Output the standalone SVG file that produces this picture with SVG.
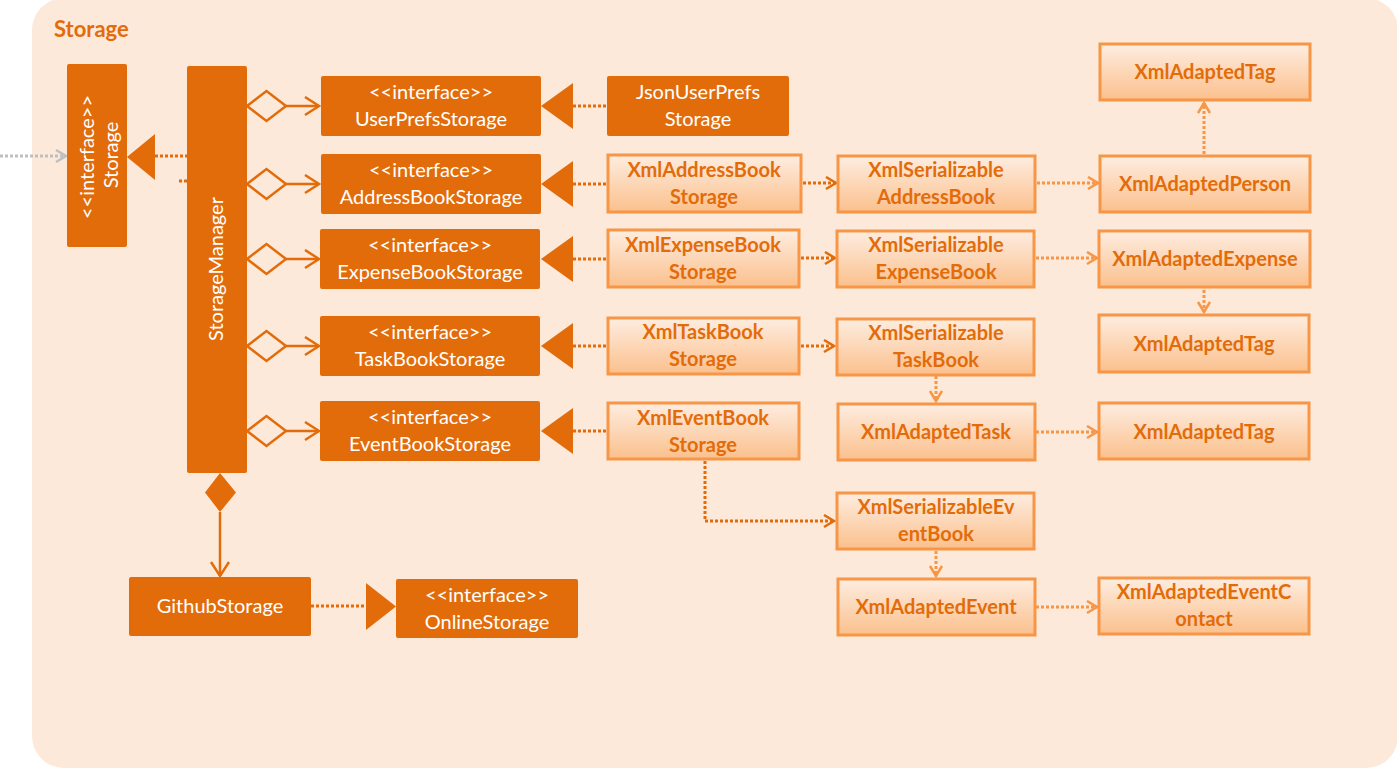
<svg xmlns="http://www.w3.org/2000/svg" width="1397" height="770" viewBox="0 0 1397 770">
<defs>
<linearGradient id="lg" x1="0" y1="0" x2="0" y2="1">
<stop offset="0" stop-color="#FEEDE0"/>
<stop offset="1" stop-color="#FBC08D"/>
</linearGradient>
<marker id="arrD" markerUnits="userSpaceOnUse" markerWidth="14" markerHeight="16" refX="11" refY="7" orient="auto">
<path d="M1,1 L11,7 L1,13" fill="none" stroke="#E36C0A" stroke-width="2.5"/>
</marker>
<marker id="arrL" markerUnits="userSpaceOnUse" markerWidth="14" markerHeight="16" refX="11" refY="7" orient="auto">
<path d="M1,1 L11,7 L1,13" fill="none" stroke="#F79646" stroke-width="2.5"/>
</marker>
<marker id="arrG" markerUnits="userSpaceOnUse" markerWidth="14" markerHeight="16" refX="11" refY="7" orient="auto">
<path d="M1,1 L11,7 L1,13" fill="none" stroke="#BFBFBF" stroke-width="2.5"/>
</marker>
<marker id="arrA" markerUnits="userSpaceOnUse" markerWidth="18" markerHeight="22" refX="15" refY="10" orient="auto">
<path d="M1,1 L15,10 L1,19" fill="none" stroke="#E36C0A" stroke-width="2.5"/>
</marker>
</defs>
<style>
.dark{fill:#E36C0A;}
.light{fill:url(#lg);stroke:#F79646;stroke-width:3;}
.wt{fill:#FFFFFF;font-family:Lato,"Open Sans","Liberation Sans",sans-serif;font-size:20px;text-anchor:middle;}
.lt{fill:#E36C0A;font-family:Lato,"Open Sans","Liberation Sans",sans-serif;font-size:20px;font-weight:bold;text-anchor:middle;}
.dd{stroke:#E36C0A;stroke-width:3;stroke-dasharray:3 2;fill:none;}
.dl{stroke:#F79646;stroke-width:3;stroke-dasharray:3 2;fill:none;}
.sol{stroke:#E36C0A;stroke-width:2.5;fill:none;}
.tri{fill:#E36C0A;}
.dia{fill:#FDE9D9;stroke:#E36C0A;stroke-width:2.5;}
</style>
<rect x="0" y="0" width="1397" height="770" fill="#FFFFFF"/>
<rect x="32" y="-2" width="1366" height="770" rx="32" fill="#FDE9D9"/>
<text x="54" y="37" fill="#E36C0A" font-family="Lato,'Open Sans','Liberation Sans',sans-serif" font-size="22" font-weight="bold">Storage</text>

<g id="connectors">
<line x1="0" y1="156" x2="66" y2="156" stroke="#BFBFBF" stroke-width="3" stroke-dasharray="3 2" marker-end="url(#arrG)"/>
<polygon class="tri" points="127,157 155,134 155,180"/>
<line class="dd" x1="155" y1="156" x2="187" y2="156"/>
<line class="dd" x1="179" y1="181" x2="187" y2="181"/>

<polygon class="dia" points="247,106 266.5,91 286,106 266.5,121"/>
<line class="sol" x1="286" y1="106" x2="319" y2="106" marker-end="url(#arrA)"/>
<polygon class="dia" points="247,184 266.5,169 286,184 266.5,199"/>
<line class="sol" x1="286" y1="184" x2="319" y2="184" marker-end="url(#arrA)"/>
<polygon class="dia" points="247,259 266.5,244 286,259 266.5,274"/>
<line class="sol" x1="286" y1="259" x2="319" y2="259" marker-end="url(#arrA)"/>
<polygon class="dia" points="247,346 266.5,331 286,346 266.5,361"/>
<line class="sol" x1="286" y1="346" x2="319" y2="346" marker-end="url(#arrA)"/>
<polygon class="dia" points="247,431 266.5,416 286,431 266.5,446"/>
<line class="sol" x1="286" y1="431" x2="319" y2="431" marker-end="url(#arrA)"/>

<polygon class="tri" points="541,106 573,83 573,129"/>
<line class="dd" x1="573" y1="106" x2="607" y2="106"/>
<polygon class="tri" points="541,184 573,161 573,207"/>
<line class="dd" x1="573" y1="184" x2="607" y2="184"/>
<polygon class="tri" points="541,259 573,236 573,282"/>
<line class="dd" x1="573" y1="259" x2="607" y2="259"/>
<polygon class="tri" points="541,346 573,323 573,369"/>
<line class="dd" x1="573" y1="346" x2="607" y2="346"/>
<polygon class="tri" points="541,431 573,408 573,454"/>
<line class="dd" x1="573" y1="431" x2="607" y2="431"/>

<line class="dd" x1="803" y1="183" x2="836" y2="183" marker-end="url(#arrD)"/>
<line class="dd" x1="801" y1="258" x2="835" y2="258" marker-end="url(#arrD)"/>
<line class="dd" x1="801" y1="346" x2="834" y2="346" marker-end="url(#arrD)"/>
<path class="dd" d="M705,461 L705,521 L834,521" marker-end="url(#arrD)"/>

<line class="dl" x1="1037" y1="183" x2="1098" y2="183" marker-end="url(#arrL)"/>
<line class="dl" x1="1036" y1="258" x2="1097" y2="258" marker-end="url(#arrL)"/>
<line class="dl" x1="1204" y1="154" x2="1204" y2="103" marker-end="url(#arrL)"/>
<line class="dl" x1="1204" y1="290" x2="1204" y2="312" marker-end="url(#arrL)"/>
<line class="dl" x1="936" y1="376" x2="936" y2="401" marker-end="url(#arrL)"/>
<line class="dl" x1="1036" y1="432" x2="1097" y2="432" marker-end="url(#arrL)"/>
<line class="dl" x1="936" y1="551" x2="936" y2="576" marker-end="url(#arrL)"/>
<line class="dl" x1="1036" y1="607" x2="1097" y2="607" marker-end="url(#arrL)"/>

<polygon fill="#E36C0A" points="220,473 236,492.5 220,512 205,492.5"/>
<line class="sol" x1="220" y1="512" x2="220" y2="576" marker-end="url(#arrA)"/>
<line class="dd" x1="311" y1="606" x2="366" y2="606"/>
<polygon class="tri" points="366,583 396,606.5 366,630"/>
</g>

<g id="storage">
<rect class="dark" x="67" y="64" width="60" height="183" rx="2"/>
<text class="wt" transform="translate(88,157) rotate(-90)" dy="6">&lt;&lt;interface&gt;&gt;</text>
<text class="wt" transform="translate(112,155) rotate(-90)" dy="6">Storage</text>
</g>
<g id="storageManager">
<rect class="dark" x="187" y="66" width="60" height="407" rx="2"/>
<text class="wt" transform="translate(217,269) rotate(-90)" dy="6">StorageManager</text>
</g>

<g id="userPrefsStorage">
<rect class="dark" x="321" y="76" width="220" height="60" rx="2"/>
<text class="wt" x="431" y="99">&lt;&lt;interface&gt;&gt;</text>
<text class="wt" x="431" y="126">UserPrefsStorage</text>
</g>
<g id="addressBookStorage">
<rect class="dark" x="321" y="154" width="220" height="60" rx="2"/>
<text class="wt" x="431" y="177">&lt;&lt;interface&gt;&gt;</text>
<text class="wt" x="431" y="204">AddressBookStorage</text>
</g>
<g id="expenseBookStorage">
<rect class="dark" x="320" y="229" width="220" height="60" rx="2"/>
<text class="wt" x="430" y="252">&lt;&lt;interface&gt;&gt;</text>
<text class="wt" x="430" y="279">ExpenseBookStorage</text>
</g>
<g id="taskBookStorage">
<rect class="dark" x="320" y="316" width="220" height="60" rx="2"/>
<text class="wt" x="430" y="339">&lt;&lt;interface&gt;&gt;</text>
<text class="wt" x="430" y="366">TaskBookStorage</text>
</g>
<g id="eventBookStorage">
<rect class="dark" x="320" y="401" width="220" height="60" rx="2"/>
<text class="wt" x="430" y="424">&lt;&lt;interface&gt;&gt;</text>
<text class="wt" x="430" y="451">EventBookStorage</text>
</g>

<g id="jsonUserPrefsStorage">
<rect class="dark" x="607" y="76" width="182" height="60" rx="2"/>
<text class="wt" x="698" y="99">JsonUserPrefs</text>
<text class="wt" x="698" y="126">Storage</text>
</g>
<g id="xmlAddressBookStorage">
<rect class="light" x="608" y="155" width="193" height="57"/>
<text class="lt" x="704" y="177">XmlAddressBook</text>
<text class="lt" x="704" y="204">Storage</text>
</g>
<g id="xmlExpenseBookStorage">
<rect class="light" x="608" y="230" width="191" height="57"/>
<text class="lt" x="703" y="252">XmlExpenseBook</text>
<text class="lt" x="703" y="279">Storage</text>
</g>
<g id="xmlTaskBookStorage">
<rect class="light" x="608" y="318" width="191" height="56"/>
<text class="lt" x="703" y="339">XmlTaskBook</text>
<text class="lt" x="703" y="366">Storage</text>
</g>
<g id="xmlEventBookStorage">
<rect class="light" x="608" y="403" width="191" height="56"/>
<text class="lt" x="703" y="425">XmlEventBook</text>
<text class="lt" x="703" y="452">Storage</text>
</g>

<g id="xmlSerializableAddressBook">
<rect class="light" x="838" y="156" width="197" height="56"/>
<text class="lt" x="936" y="177">XmlSerializable</text>
<text class="lt" x="936" y="204">AddressBook</text>
</g>
<g id="xmlSerializableExpenseBook">
<rect class="light" x="837" y="231" width="197" height="56"/>
<text class="lt" x="936" y="252">XmlSerializable</text>
<text class="lt" x="936" y="279">ExpenseBook</text>
</g>
<g id="xmlSerializableTaskBook">
<rect class="light" x="837" y="319" width="197" height="56"/>
<text class="lt" x="936" y="340">XmlSerializable</text>
<text class="lt" x="936" y="367">TaskBook</text>
</g>
<g id="xmlAdaptedTask">
<rect class="light" x="838" y="404" width="197" height="56"/>
<text class="lt" x="936" y="439">XmlAdaptedTask</text>
</g>
<g id="xmlSerializableEventBook">
<rect class="light" x="837" y="493" width="197" height="56"/>
<text class="lt" x="936" y="514">XmlSerializableEv</text>
<text class="lt" x="936" y="541">entBook</text>
</g>
<g id="xmlAdaptedEvent">
<rect class="light" x="838" y="579" width="197" height="56"/>
<text class="lt" x="936" y="614">XmlAdaptedEvent</text>
</g>

<g id="xmlAdaptedTag1">
<rect class="light" x="1100" y="44" width="210" height="56"/>
<text class="lt" x="1205" y="79">XmlAdaptedTag</text>
</g>
<g id="xmlAdaptedPerson">
<rect class="light" x="1100" y="156" width="210" height="56"/>
<text class="lt" x="1205" y="191">XmlAdaptedPerson</text>
</g>
<g id="xmlAdaptedExpense">
<rect class="light" x="1099" y="231" width="211" height="56"/>
<text class="lt" x="1205" y="266">XmlAdaptedExpense</text>
</g>
<g id="xmlAdaptedTag2">
<rect class="light" x="1099" y="315" width="210" height="57"/>
<text class="lt" x="1204" y="351">XmlAdaptedTag</text>
</g>
<g id="xmlAdaptedTag3">
<rect class="light" x="1099" y="403" width="210" height="56"/>
<text class="lt" x="1204" y="439">XmlAdaptedTag</text>
</g>
<g id="xmlAdaptedEventContact">
<rect class="light" x="1099" y="578" width="210" height="56"/>
<text class="lt" x="1204" y="599">XmlAdaptedEventC</text>
<text class="lt" x="1204" y="626">ontact</text>
</g>

<g id="githubStorage">
<rect class="dark" x="129" y="577" width="182" height="59" rx="2"/>
<text class="wt" x="220" y="613">GithubStorage</text>
</g>
<g id="onlineStorage">
<rect class="dark" x="396" y="579" width="182" height="59" rx="2"/>
<text class="wt" x="487" y="602">&lt;&lt;interface&gt;&gt;</text>
<text class="wt" x="487" y="629">OnlineStorage</text>
</g>
</svg>
